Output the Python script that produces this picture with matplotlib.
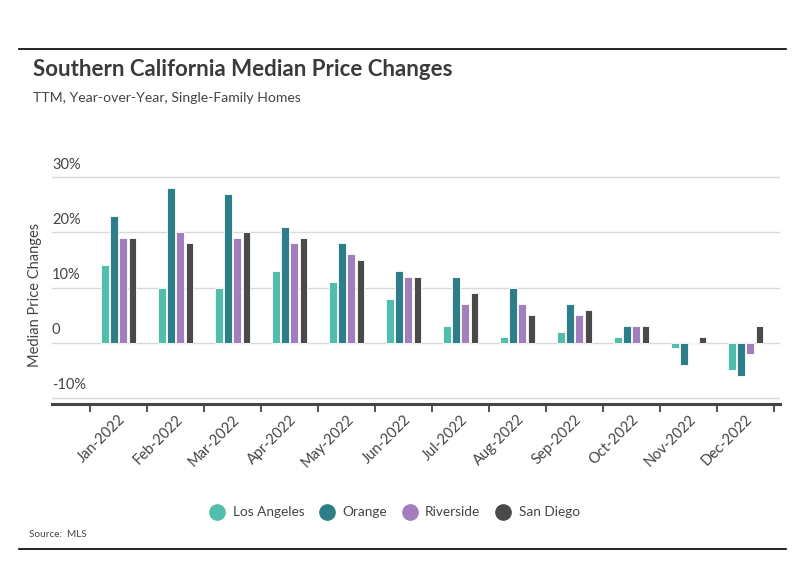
import matplotlib
matplotlib.use("Agg")
import matplotlib.pyplot as plt
import matplotlib.transforms as mtransforms
from matplotlib.lines import Line2D
import numpy as np

plt.rcParams['font.family'] = ['Lato', 'DejaVu Sans']

months = ["Jan-2022", "Feb-2022", "Mar-2022", "Apr-2022", "May-2022", "Jun-2022",
          "Jul-2022", "Aug-2022", "Sep-2022", "Oct-2022", "Nov-2022", "Dec-2022"]
series_names = ["Los Angeles", "Orange", "Riverside", "San Diego"]
los_angeles = [14, 10, 10, 13, 11, 8, 3, 1, 2, 1, -1, -5]
orange = [23, 28, 27, 21, 18, 13, 12, 10, 7, 3, -4, -6]
riverside = [19, 20, 19, 18, 16, 12, 7, 7, 5, 3, 0, -2]
san_diego = [19, 18, 20, 19, 15, 12, 9, 5, 6, 3, 1, 3]
ytick_values = [-10, 0, 10, 20, 30]
ytick_labels = ["-10%", "0", "10%", "20%", "30%"]

colors = ["#52bdab", "#2d7e89", "#a27fbc", "#4a4a4a"]
data = [los_angeles, orange, riverside, san_diego]

fig = plt.figure(figsize=(8, 5.75), dpi=100)
ax = fig.add_axes([0.065, 0.2974, 0.91, 0.4136])

x = np.arange(len(months))
pitch = 0.162
width = 0.135
for i, (vals, c) in enumerate(zip(data, colors)):
    ax.bar(x + (i - 1.5) * pitch, vals, width=width, color=c,
           edgecolor="white", linewidth=0.6, zorder=3)

ax.set_xlim(-1.167, 11.605)
ax.set_ylim(-11.1, 32)

for v in ytick_values:
    ax.axhline(v, color="#d9d9d9", linewidth=1, zorder=1)
ax.set_yticks([])
trans = mtransforms.offset_copy(ax.get_yaxis_transform(), fig=fig, x=0, y=4, units='points')
for v, lab in zip(ytick_values, ytick_labels):
    ax.text(0.0, v, lab, transform=trans, ha='left', va='bottom', fontsize=10.5, color="#444444")

for s in ["top", "right", "left"]:
    ax.spines[s].set_visible(False)
ax.spines["bottom"].set_color("#444444")
ax.spines["bottom"].set_linewidth(2.2)

ax.set_xticks(np.arange(-0.5, 12, 1), minor=True)
ax.set_xticks(x)
ax.set_xticklabels(months, rotation=45, ha='right', rotation_mode='anchor',
                   fontsize=10.5, color="#444444")
ax.tick_params(axis='x', which='major', length=0, pad=6)
ax.tick_params(axis='x', which='minor', length=6, width=1.3, color="#444444")

fig.text(0.044, 0.487, "Median Price Changes", rotation=90, ha='center', va='center',
         fontsize=10.5, color="#444444")

fig.text(0.041, 0.88, "Southern California Median Price Changes", fontsize=16,
         fontweight='bold', color="#3a3a3a", ha='left', va='center')
fig.text(0.041, 0.829, "TTM, Year-over-Year, Single-Family Homes", fontsize=10.1,
         color="#444444", ha='left', va='center')

fig.add_artist(Line2D([0.024, 0.982], [0.915, 0.915], color="black", linewidth=1.2))
fig.add_artist(Line2D([0.024, 0.982], [0.045, 0.045], color="black", linewidth=1.2))

handles = [Line2D([], [], marker='o', linestyle='', markersize=11, color=c) for c in colors]
fig.legend(handles, series_names, loc='center', bbox_to_anchor=(0.492, 0.109), ncol=4,
           frameon=False, fontsize=9.8, handletextpad=0.45, columnspacing=0.95,
           handlelength=1.4, labelcolor="#444444")

fig.text(0.036, 0.071, "Source:  MLS", fontsize=7.2, color="#444444", ha='left', va='center')

fig.savefig("out.png", dpi=100)
